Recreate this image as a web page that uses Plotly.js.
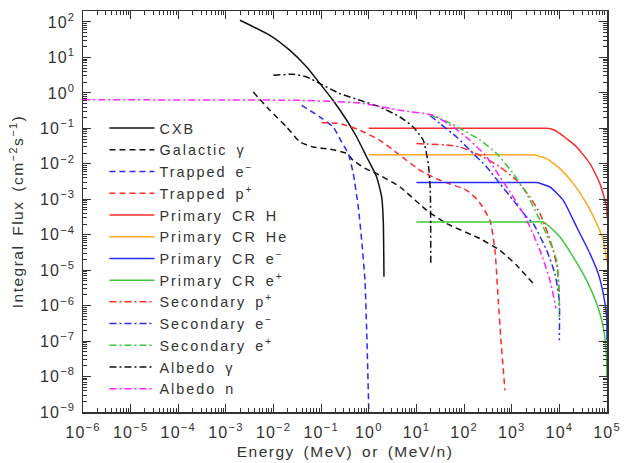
<!DOCTYPE html>
<html><head><meta charset="utf-8">
<script src="https://cdn.plot.ly/plotly-3.0.1.min.js"></script>
<style>
html,body{margin:0;padding:0;background:#fff}
#chart{width:624px;height:463px}
.legendtext{letter-spacing:2px;word-spacing:3px}
.xtick text,.ytick text{letter-spacing:1.2px}
.g-xtitle text,.g-ytitle text,.xtitle,.ytitle{letter-spacing:1.5px;word-spacing:3px}
</style>
</head><body><div id="chart"></div>
<script>
// ---- data (Energy in MeV or MeV/n, integral flux in cm^-2 s^-1) ----
const cxbE = [0.00197, 0.0084, 0.0221, 0.0497, 0.0944, 0.177, 0.343, 0.556, 0.902, 1.46, 1.86, 2.01, 2.08];
const cxbF = [112, 42.2, 15.8, 5.37, 1.83, 0.618, 0.169, 0.057, 0.0156, 0.00425, 0.00116, 2.55e-4, 6.5e-6];

const galE = [0.00376, 0.0084, 0.0189, 0.0359, 0.0673, 0.153, 0.343, 0.466, 0.83, 1.46, 4.51, 16.4, 43.1, 215, 566, 1268, 2831];
const galF = [1.06, 0.322, 0.109, 0.0412, 0.0298, 0.0257, 0.0198, 0.0126, 0.00746, 0.00528, 0.00222, 4.88e-4, 2.06e-4, 7.76e-5, 3.63e-5, 1.37e-5, 4.17e-6];

const trapElE = [0.039, 0.0944, 0.179, 0.269, 0.371, 0.472, 0.601, 0.708, 0.83, 0.914, 1.0];
const trapElF = [0.447, 0.209, 0.109, 0.0412, 0.0194, 0.00528, 6.04e-4, 6.95e-5, 5.18e-6, 1.05e-7, 1e-9];

const trapPrE = [0.102, 0.248, 0.653, 1.71, 4.51, 11.9, 31.2, 113, 195, 349, 445, 521, 594, 721];
const trapPrF = [0.145, 0.136, 0.0881, 0.046, 0.0174, 0.00656, 0.00343, 0.00179, 9.33e-4, 2.55e-4, 3.63e-5, 1.41e-6, 1.05e-7, 4.07e-9];

const crHE = [1, 3000, 5400, 7400, 10300, 23100, 43900, 71100, 98400, 100000];
const crHF = [0.1, 0.1, 0.1, 0.093, 0.0711, 0.0298, 0.0101, 0.00276, 6.04e-4, 3.2e-4];

const crHeE = [1, 1500, 2830, 5400, 10300, 19600, 37400, 60700, 83600, 100000];
const crHeF = [0.018, 0.018, 0.018, 0.014, 0.00733, 0.00276, 7.53e-4, 2.06e-4, 6.95e-5, 1.66e-5];

const crElE = [10, 2000, 3334, 6350, 12080, 23100, 43900, 65500, 83400, 98400, 100000];
const crElF = [0.00295, 0.00295, 0.00295, 0.00222, 9.33e-4, 1.65e-4, 2.93e-5, 8.0e-6, 2.18e-6, 4.76e-7, 1.05e-7];

const crPoE = [10, 2800, 4590, 6350, 10300, 19600, 37400, 60700, 83600, 95500, 100000];
const crPoF = [2.3e-4, 2.3e-4, 2.3e-4, 1.65e-4, 8.6e-5, 2.35e-5, 5.18e-6, 1.14e-6, 2.49e-7, 5.5e-8, 9.5e-9];

const secPrE = [10, 50.6, 82, 215, 566, 1268, 2415, 3917, 5408, 7447, 8913, 10000];
const secPrF = [0.0372, 0.0333, 0.0298, 0.0174, 0.00813, 0.00343, 0.00116, 3.94e-4, 1.33e-4, 3.63e-5, 1.23e-5, 2.22e-6];

const secElE = [19.2, 31.2, 69.8, 156, 298, 566, 1079, 2056, 2831, 5408, 8072, 9954, 10000];
const secElF = [0.233, 0.136, 0.057, 0.0194, 0.00813, 0.00276, 9.33e-4, 3.16e-4, 2.06e-4, 3.63e-5, 8.0e-6, 1.41e-6, 1.05e-7];

const secPoE = [19.2, 43.1, 82, 215, 483, 1079, 2056, 3334, 4592, 8790, 9900, 10000];
const secPoF = [0.233, 0.158, 0.0984, 0.0475, 0.0194, 0.00528, 0.00144, 3.94e-4, 1.65e-4, 1.9e-5, 2.19e-6, 4.76e-7];

const albGE = [0.00989, 0.0259, 0.0497, 0.0944, 0.248, 0.653, 1.71, 4.51, 8.57, 13.9, 17.7, 19.5, 20];
const albGF = [3.13, 3.35, 2.81, 1.83, 0.955, 0.618, 0.4, 0.209, 0.109, 0.046, 0.0101, 0.0018, 1.5e-5];

const albNE = [1e-6, 7.5e-4, 0.0359, 0.653, 4.51, 22.5, 59.3, 133, 298, 566, 1079, 1750, 2415, 3917, 6350, 8490];
const albNF = [0.647, 0.627, 0.618, 0.519, 0.323, 0.233, 0.109, 0.046, 0.0156, 0.00425, 0.00116, 3.94e-4, 1.65e-4, 3.63e-5, 5.18e-6, 8.4e-7];

const seriesNames = ['CXB', 'Galactic γ', 'Trapped e<sup>−</sup>', 'Trapped p<sup>+</sup>',
  'Primary CR H', 'Primary CR He', 'Primary CR e<sup>−</sup>', 'Primary CR e<sup>+</sup>',
  'Secondary p<sup>+</sup>', 'Secondary e<sup>−</sup>', 'Secondary e<sup>+</sup>', 'Albedo γ', 'Albedo n'];

const xTickVals = [1e-6, 1e-5, 1e-4, 1e-3, 1e-2, 1e-1, 1e0, 1e1, 1e2, 1e3, 1e4, 1e5];
const xTickLabels = ['10<sup>−6</sup>', '10<sup>−5</sup>', '10<sup>−4</sup>', '10<sup>−3</sup>', '10<sup>−2</sup>', '10<sup>−1</sup>',
  '10<sup>0</sup>', '10<sup>1</sup>', '10<sup>2</sup>', '10<sup>3</sup>', '10<sup>4</sup>', '10<sup>5</sup>'];
const yTickVals = [1e-9, 1e-8, 1e-7, 1e-6, 1e-5, 1e-4, 1e-3, 1e-2, 1e-1, 1e0, 1e1, 1e2];
const yTickLabels = ['10<sup>−9</sup>', '10<sup>−8</sup>', '10<sup>−7</sup>', '10<sup>−6</sup>', '10<sup>−5</sup>', '10<sup>−4</sup>',
  '10<sup>−3</sup>', '10<sup>−2</sup>', '10<sup>−1</sup>', '10<sup>0</sup>', '10<sup>1</sup>', '10<sup>2</sup>'];

// ---- styling ----
const RED = '#ff2a2a', ORANGE = '#ffa820', BLUE = '#2a2aff', GREEN = '#3cc83c', MAGENTA = '#ff20ff', BLACK = '#111111';
const DASH = '6px,4px', DASHDOT = '7px,3px,2px,3px';

const defs = [
  [cxbE, cxbF, BLACK, 'solid'],
  [galE, galF, BLACK, DASH],
  [trapElE, trapElF, BLUE, DASH],
  [trapPrE, trapPrF, RED, DASH],
  [crHE, crHF, RED, 'solid'],
  [crHeE, crHeF, ORANGE, 'solid'],
  [crElE, crElF, BLUE, 'solid'],
  [crPoE, crPoF, GREEN, 'solid'],
  [secPrE, secPrF, RED, DASHDOT],
  [secElE, secElF, BLUE, DASHDOT],
  [secPoE, secPoF, GREEN, DASHDOT],
  [albGE, albGF, BLACK, DASHDOT],
  [albNE, albNF, MAGENTA, DASHDOT]
];

const traces = defs.map((d, i) => ({
  type: 'scatter', mode: 'lines', x: d[0], y: d[1], name: seriesNames[i],
  line: {color: d[2], dash: d[3], width: 1.5, shape: 'spline', smoothing: 0.5},
  hoverinfo: 'skip'
}));

function minorVals(lo, hi) {
  const v = [];
  for (let k = lo; k < hi; k++) for (let m = 2; m <= 9; m++) v.push(m * Math.pow(10, k));
  return v;
}

const FONT = 'Liberation Sans, Arial, Helvetica, sans-serif';
const TXT = '#333333';
const axisCommon = {
  type: 'log', showgrid: false, zeroline: false,
  showline: true, linecolor: '#333', linewidth: 1.5, mirror: 'allticks',
  ticks: 'inside', ticklen: 8, tickwidth: 1, tickcolor: '#333',
  tickmode: 'array', tickfont: {family: FONT, size: 16, color: TXT}
};

const layout = {
  width: 624, height: 463,
  margin: {l: 83, r: 17, t: 11, b: 51, pad: 0},
  paper_bgcolor: '#fff', plot_bgcolor: '#fff',
  font: {family: FONT, color: TXT, size: 15},
  showlegend: true,
  legend: {x: 0.041, y: 0.7475, xanchor: 'left', yanchor: 'top', bgcolor: 'rgba(0,0,0,0)',
    font: {family: FONT, size: 14.4, color: TXT}, itemwidth: 45, tracegroupgap: 0},
  xaxis: Object.assign({}, axisCommon, {
    range: [-6, 5], tickvals: xTickVals, ticktext: xTickLabels, ticklabelstandoff: 5,
    minor: {tickmode: 'array', tickvals: minorVals(-6, 5), ticks: 'inside', ticklen: 4, tickwidth: 1, tickcolor: '#333', showgrid: false},
    title: {text: 'Energy (MeV) or (MeV/n)', font: {family: FONT, size: 15.5, color: TXT}, standoff: 6}
  }),
  yaxis: Object.assign({}, axisCommon, {
    range: [-9, 2.31], tickvals: yTickVals, ticktext: yTickLabels, ticklabelstandoff: 3,
    minor: {tickmode: 'array', tickvals: minorVals(-9, 3), ticks: 'inside', ticklen: 4, tickwidth: 1, tickcolor: '#333', showgrid: false},
    title: {text: 'Integral Flux (cm<sup>−2</sup>s<sup>−1</sup>)', font: {family: FONT, size: 15.5, color: TXT}, standoff: 12}
  })
};

Plotly.newPlot('chart', traces, layout, {staticPlot: true, displayModeBar: false});
</script>
</body></html>
